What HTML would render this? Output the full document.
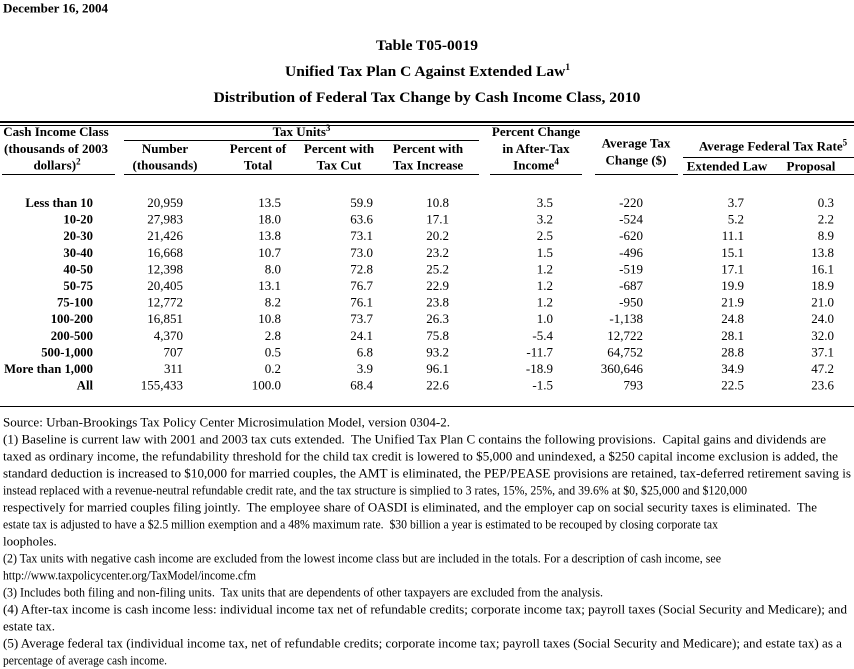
<!DOCTYPE html>
<html>
<head>
<meta charset="utf-8">
<style>
html,body{margin:0;padding:0;background:#fff;}
body{width:854px;height:669px;overflow:hidden;}
svg{display:block;}
text{font-family:"Liberation Serif","Times New Roman",serif;fill:#000;white-space:pre;}
.b{font-weight:bold;}
.h{font-size:13px;font-weight:bold;}
.n{font-size:13px;}
.l{font-size:12.7px;font-weight:bold;}
.f{font-size:13px;}
.sup{font-size:9px;font-weight:bold;}
</style>
</head>
<body>
<svg width="854" height="669" viewBox="0 0 854 669" xmlns="http://www.w3.org/2000/svg">
<rect x="0" y="0" width="854" height="669" fill="#fff"/>

<!-- Date -->
<text class="b" x="3" y="12.5" font-size="13" textLength="105" lengthAdjust="spacingAndGlyphs">December 16, 2004</text>

<!-- Titles -->
<text class="b" x="376" y="50" font-size="15" textLength="102" lengthAdjust="spacingAndGlyphs">Table T05-0019</text>
<text class="b" x="285" y="76" font-size="15" textLength="285" lengthAdjust="spacingAndGlyphs">Unified Tax Plan C Against Extended Law<tspan font-size="9" dy="-6">1</tspan></text>
<text class="b" x="427" y="102" font-size="15" text-anchor="middle" textLength="427" lengthAdjust="spacingAndGlyphs">Distribution of Federal Tax Change by Cash Income Class, 2010</text>

<!-- Top double rule -->
<rect x="0" y="121" width="854" height="2" fill="#000"/>
<rect x="0" y="125" width="854" height="1" fill="#000"/>

<!-- Header row 1 -->
<text class="h" x="56" y="136" text-anchor="middle">Cash Income Class</text>
<text class="h" x="301.5" y="136" text-anchor="middle">Tax Units<tspan class="sup" dy="-5">3</tspan></text>
<text class="h" x="536" y="136" text-anchor="middle">Percent Change</text>

<!-- lines under groups -->
<rect x="124" y="140" width="355" height="1" fill="#000"/>
<rect x="683" y="157" width="171" height="1" fill="#000"/>

<!-- Header row 2 -->
<text class="h" x="56" y="152.8" text-anchor="middle">(thousands of 2003</text>
<text class="h" x="165" y="152.8" text-anchor="middle">Number</text>
<text class="h" x="258" y="152.8" text-anchor="middle">Percent of</text>
<text class="h" x="339" y="152.8" text-anchor="middle">Percent with</text>
<text class="h" x="428" y="152.8" text-anchor="middle">Percent with</text>
<text class="h" x="536" y="152.8" text-anchor="middle">in After-Tax</text>
<text class="h" x="636" y="147.5" text-anchor="middle">Average Tax</text>
<text class="h" x="636" y="164.5" text-anchor="middle">Change ($)</text>
<text class="h" x="773" y="150.5" text-anchor="middle">Average Federal Tax Rate<tspan class="sup" dy="-5">5</tspan></text>

<!-- Header row 3 -->
<text class="h" x="57" y="169.5" text-anchor="middle">dollars)<tspan class="sup" dy="-5">2</tspan></text>
<text class="h" x="165" y="169.5" text-anchor="middle">(thousands)</text>
<text class="h" x="258" y="169.5" text-anchor="middle">Total</text>
<text class="h" x="339" y="169.5" text-anchor="middle">Tax Cut</text>
<text class="h" x="428" y="169.5" text-anchor="middle">Tax Increase</text>
<text class="h" x="536" y="169.5" text-anchor="middle">Income<tspan class="sup" dy="-5">4</tspan></text>
<text class="h" x="727" y="170.5" text-anchor="middle">Extended Law</text>
<text class="h" x="811" y="170.5" text-anchor="middle">Proposal</text>

<!-- Header underlines -->
<rect x="2" y="174" width="113" height="1" fill="#000"/>
<rect x="124" y="174" width="355" height="1" fill="#000"/>
<rect x="490" y="174" width="92" height="1" fill="#000"/>
<rect x="595" y="174" width="83" height="1" fill="#000"/>
<rect x="683" y="174" width="171" height="1" fill="#000"/>

<!-- Data rows -->
<g>
<text class="l" x="93" y="207" text-anchor="end">Less than 10</text>
<text class="n" x="183" y="207" text-anchor="end">20,959</text>
<text class="n" x="281" y="207" text-anchor="end">13.5</text>
<text class="n" x="373" y="207" text-anchor="end">59.9</text>
<text class="n" x="449" y="207" text-anchor="end">10.8</text>
<text class="n" x="553" y="207" text-anchor="end">3.5</text>
<text class="n" x="643" y="207" text-anchor="end">-220</text>
<text class="n" x="744" y="207" text-anchor="end">3.7</text>
<text class="n" x="834" y="207" text-anchor="end">0.3</text>
</g>
<g>
<text class="l" x="93" y="223.6" text-anchor="end">10-20</text>
<text class="n" x="183" y="223.6" text-anchor="end">27,983</text>
<text class="n" x="281" y="223.6" text-anchor="end">18.0</text>
<text class="n" x="373" y="223.6" text-anchor="end">63.6</text>
<text class="n" x="449" y="223.6" text-anchor="end">17.1</text>
<text class="n" x="553" y="223.6" text-anchor="end">3.2</text>
<text class="n" x="643" y="223.6" text-anchor="end">-524</text>
<text class="n" x="744" y="223.6" text-anchor="end">5.2</text>
<text class="n" x="834" y="223.6" text-anchor="end">2.2</text>
</g>
<g>
<text class="l" x="93" y="240.2" text-anchor="end">20-30</text>
<text class="n" x="183" y="240.2" text-anchor="end">21,426</text>
<text class="n" x="281" y="240.2" text-anchor="end">13.8</text>
<text class="n" x="373" y="240.2" text-anchor="end">73.1</text>
<text class="n" x="449" y="240.2" text-anchor="end">20.2</text>
<text class="n" x="553" y="240.2" text-anchor="end">2.5</text>
<text class="n" x="643" y="240.2" text-anchor="end">-620</text>
<text class="n" x="744" y="240.2" text-anchor="end">11.1</text>
<text class="n" x="834" y="240.2" text-anchor="end">8.9</text>
</g>
<g>
<text class="l" x="93" y="256.8" text-anchor="end">30-40</text>
<text class="n" x="183" y="256.8" text-anchor="end">16,668</text>
<text class="n" x="281" y="256.8" text-anchor="end">10.7</text>
<text class="n" x="373" y="256.8" text-anchor="end">73.0</text>
<text class="n" x="449" y="256.8" text-anchor="end">23.2</text>
<text class="n" x="553" y="256.8" text-anchor="end">1.5</text>
<text class="n" x="643" y="256.8" text-anchor="end">-496</text>
<text class="n" x="744" y="256.8" text-anchor="end">15.1</text>
<text class="n" x="834" y="256.8" text-anchor="end">13.8</text>
</g>
<g>
<text class="l" x="93" y="273.4" text-anchor="end">40-50</text>
<text class="n" x="183" y="273.4" text-anchor="end">12,398</text>
<text class="n" x="281" y="273.4" text-anchor="end">8.0</text>
<text class="n" x="373" y="273.4" text-anchor="end">72.8</text>
<text class="n" x="449" y="273.4" text-anchor="end">25.2</text>
<text class="n" x="553" y="273.4" text-anchor="end">1.2</text>
<text class="n" x="643" y="273.4" text-anchor="end">-519</text>
<text class="n" x="744" y="273.4" text-anchor="end">17.1</text>
<text class="n" x="834" y="273.4" text-anchor="end">16.1</text>
</g>
<g>
<text class="l" x="93" y="290" text-anchor="end">50-75</text>
<text class="n" x="183" y="290" text-anchor="end">20,405</text>
<text class="n" x="281" y="290" text-anchor="end">13.1</text>
<text class="n" x="373" y="290" text-anchor="end">76.7</text>
<text class="n" x="449" y="290" text-anchor="end">22.9</text>
<text class="n" x="553" y="290" text-anchor="end">1.2</text>
<text class="n" x="643" y="290" text-anchor="end">-687</text>
<text class="n" x="744" y="290" text-anchor="end">19.9</text>
<text class="n" x="834" y="290" text-anchor="end">18.9</text>
</g>
<g>
<text class="l" x="93" y="306.6" text-anchor="end">75-100</text>
<text class="n" x="183" y="306.6" text-anchor="end">12,772</text>
<text class="n" x="281" y="306.6" text-anchor="end">8.2</text>
<text class="n" x="373" y="306.6" text-anchor="end">76.1</text>
<text class="n" x="449" y="306.6" text-anchor="end">23.8</text>
<text class="n" x="553" y="306.6" text-anchor="end">1.2</text>
<text class="n" x="643" y="306.6" text-anchor="end">-950</text>
<text class="n" x="744" y="306.6" text-anchor="end">21.9</text>
<text class="n" x="834" y="306.6" text-anchor="end">21.0</text>
</g>
<g>
<text class="l" x="93" y="323.2" text-anchor="end">100-200</text>
<text class="n" x="183" y="323.2" text-anchor="end">16,851</text>
<text class="n" x="281" y="323.2" text-anchor="end">10.8</text>
<text class="n" x="373" y="323.2" text-anchor="end">73.7</text>
<text class="n" x="449" y="323.2" text-anchor="end">26.3</text>
<text class="n" x="553" y="323.2" text-anchor="end">1.0</text>
<text class="n" x="643" y="323.2" text-anchor="end">-1,138</text>
<text class="n" x="744" y="323.2" text-anchor="end">24.8</text>
<text class="n" x="834" y="323.2" text-anchor="end">24.0</text>
</g>
<g>
<text class="l" x="93" y="339.8" text-anchor="end">200-500</text>
<text class="n" x="183" y="339.8" text-anchor="end">4,370</text>
<text class="n" x="281" y="339.8" text-anchor="end">2.8</text>
<text class="n" x="373" y="339.8" text-anchor="end">24.1</text>
<text class="n" x="449" y="339.8" text-anchor="end">75.8</text>
<text class="n" x="553" y="339.8" text-anchor="end">-5.4</text>
<text class="n" x="643" y="339.8" text-anchor="end">12,722</text>
<text class="n" x="744" y="339.8" text-anchor="end">28.1</text>
<text class="n" x="834" y="339.8" text-anchor="end">32.0</text>
</g>
<g>
<text class="l" x="93" y="356.4" text-anchor="end">500-1,000</text>
<text class="n" x="183" y="356.4" text-anchor="end">707</text>
<text class="n" x="281" y="356.4" text-anchor="end">0.5</text>
<text class="n" x="373" y="356.4" text-anchor="end">6.8</text>
<text class="n" x="449" y="356.4" text-anchor="end">93.2</text>
<text class="n" x="553" y="356.4" text-anchor="end">-11.7</text>
<text class="n" x="643" y="356.4" text-anchor="end">64,752</text>
<text class="n" x="744" y="356.4" text-anchor="end">28.8</text>
<text class="n" x="834" y="356.4" text-anchor="end">37.1</text>
</g>
<g>
<text class="l" x="93" y="373" text-anchor="end">More than 1,000</text>
<text class="n" x="183" y="373" text-anchor="end">311</text>
<text class="n" x="281" y="373" text-anchor="end">0.2</text>
<text class="n" x="373" y="373" text-anchor="end">3.9</text>
<text class="n" x="449" y="373" text-anchor="end">96.1</text>
<text class="n" x="553" y="373" text-anchor="end">-18.9</text>
<text class="n" x="643" y="373" text-anchor="end">360,646</text>
<text class="n" x="744" y="373" text-anchor="end">34.9</text>
<text class="n" x="834" y="373" text-anchor="end">47.2</text>
</g>
<g>
<text class="l" x="93" y="389.6" text-anchor="end">All</text>
<text class="n" x="183" y="389.6" text-anchor="end">155,433</text>
<text class="n" x="281" y="389.6" text-anchor="end">100.0</text>
<text class="n" x="373" y="389.6" text-anchor="end">68.4</text>
<text class="n" x="449" y="389.6" text-anchor="end">22.6</text>
<text class="n" x="553" y="389.6" text-anchor="end">-1.5</text>
<text class="n" x="643" y="389.6" text-anchor="end">793</text>
<text class="n" x="744" y="389.6" text-anchor="end">22.5</text>
<text class="n" x="834" y="389.6" text-anchor="end">23.6</text>
</g>

<!-- Bottom rule -->
<rect x="0" y="406" width="854" height="1" fill="#000"/>

<!-- Footnotes -->
<text class="f" x="3" y="426.5" textLength="447" lengthAdjust="spacingAndGlyphs">Source: Urban-Brookings Tax Policy Center Microsimulation Model, version 0304-2.</text>
<text class="f" x="3" y="443.5" textLength="823" lengthAdjust="spacingAndGlyphs">(1) Baseline is current law with 2001 and 2003 tax cuts extended.  The Unified Tax Plan C contains the following provisions.  Capital gains and dividends are</text>
<text class="f" x="3" y="460.5" textLength="835" lengthAdjust="spacingAndGlyphs">taxed as ordinary income, the refundability threshold for the child tax credit is lowered to $5,000 and unindexed, a $250 capital income exclusion is added, the</text>
<text class="f" x="3" y="477.5" textLength="848" lengthAdjust="spacingAndGlyphs">standard deduction is increased to $10,000 for married couples, the AMT is eliminated, the PEP/PEASE provisions are retained, tax-deferred retirement saving is</text>
<text class="f" x="3" y="494.5" textLength="744" lengthAdjust="spacingAndGlyphs">instead replaced with a revenue-neutral refundable credit rate, and the tax structure is simplied to 3 rates, 15%, 25%, and 39.6% at $0, $25,000 and $120,000</text>
<text class="f" x="3" y="511.5" textLength="814" lengthAdjust="spacingAndGlyphs">respectively for married couples filing jointly.  The employee share of OASDI is eliminated, and the employer cap on social security taxes is eliminated.  The</text>
<text class="f" x="3" y="528.5" textLength="715" lengthAdjust="spacingAndGlyphs">estate tax is adjusted to have a $2.5 million exemption and a 48% maximum rate.  $30 billion a year is estimated to be recouped by closing corporate tax</text>
<text class="f" x="3" y="545.5">loopholes.</text>
<text class="f" x="3" y="562.5" textLength="718" lengthAdjust="spacingAndGlyphs">(2) Tax units with negative cash income are excluded from the lowest income class but are included in the totals. For a description of cash income, see</text>
<text class="f" x="3" y="579.5" textLength="253" lengthAdjust="spacingAndGlyphs">http://www.taxpolicycenter.org/TaxModel/income.cfm</text>
<text class="f" x="3" y="596.5" textLength="600" lengthAdjust="spacingAndGlyphs">(3) Includes both filing and non-filing units.  Tax units that are dependents of other taxpayers are excluded from the analysis.</text>
<text class="f" x="3" y="613.5" textLength="844" lengthAdjust="spacingAndGlyphs">(4) After-tax income is cash income less: individual income tax net of refundable credits; corporate income tax; payroll taxes (Social Security and Medicare); and</text>
<text class="f" x="3" y="630.5">estate tax.</text>
<text class="f" x="3" y="647.5" textLength="839" lengthAdjust="spacingAndGlyphs">(5) Average federal tax (individual income tax, net of refundable credits; corporate income tax; payroll taxes (Social Security and Medicare); and estate tax) as a</text>
<text class="f" x="3" y="664.5" textLength="164" lengthAdjust="spacingAndGlyphs">percentage of average cash income.</text>
</svg>
</body>
</html>
